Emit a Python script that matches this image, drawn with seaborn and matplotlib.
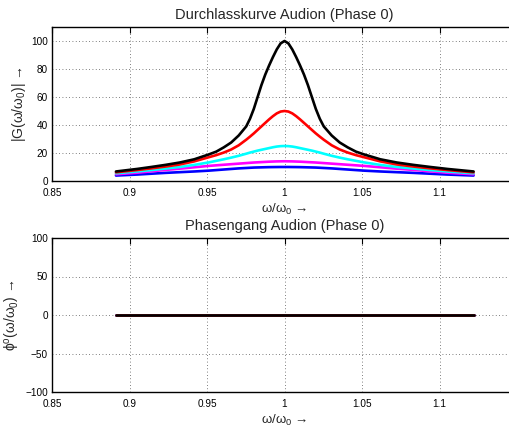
import numpy as np
import pandas as pd
import matplotlib
matplotlib.use("Agg")
import matplotlib.pyplot as plt
import seaborn as sns

# frequency ratio omega/omega0
x_vals = [0.89127, 0.90484, 0.91393, 0.92312, 0.93239, 0.94176, 0.95123, 0.95600,
          0.96079, 0.96561, 0.97045, 0.97531, 0.97775, 0.98020, 0.98265, 0.98511,
          0.98758, 0.99005, 0.99253, 0.99501, 0.99750, 1.00000, 1.00250, 1.00501,
          1.00753, 1.01005, 1.01258, 1.01511, 1.01765, 1.02020, 1.02276, 1.02532,
          1.03045, 1.03562, 1.04081, 1.04603, 1.05127, 1.06184, 1.07251, 1.08329,
          1.09417, 1.10517, 1.12198]

# |G| values per curve
g_blue = [3.9, 4.6, 5.2, 5.8, 6.3, 6.8, 7.4, 7.8, 8.2, 8.6, 9.0, 9.3, 9.45, 9.6, 9.68, 9.75,
          9.83, 9.9, 9.94, 9.97, 10.0, 10.0, 10.0, 9.97, 9.94, 9.9, 9.83, 9.75, 9.68, 9.6,
          9.45, 9.3, 9.0, 8.6, 8.2, 7.8, 7.4, 6.8, 6.3, 5.8, 5.2, 4.6, 3.9]
g_magenta = [4.8, 5.9, 6.9, 7.9, 8.8, 9.8, 10.8, 11.2, 11.6, 12.0, 12.4, 12.8, 13.0, 13.2,
             13.35, 13.5, 13.65, 13.8, 13.9, 14.0, 14.05, 14.1, 14.05, 14.0, 13.9, 13.8,
             13.65, 13.5, 13.35, 13.2, 13.0, 12.8, 12.4, 12.0, 11.6, 11.2, 10.8, 9.8, 8.8,
             7.9, 6.9, 5.9, 4.8]
g_cyan = [5.5, 6.8, 7.8, 8.9, 10.0, 11.5, 13.3, 14.4, 15.5, 16.7, 18.0, 19.5, 20.3, 21.0,
          21.7, 22.3, 22.9, 23.5, 24.1, 24.6, 24.9, 25.0, 24.9, 24.6, 24.1, 23.5, 22.9, 22.3,
          21.7, 21.0, 20.3, 19.5, 18.0, 16.7, 15.5, 14.4, 13.3, 11.5, 10.0, 8.9, 7.8, 6.8, 5.5]
g_red = [6.2, 7.8, 9.0, 10.3, 11.8, 14.0, 17.0, 18.5, 20.3, 22.5, 25.5, 29.5, 31.7, 34.0,
         36.5, 39.0, 41.5, 44.0, 46.3, 48.3, 49.6, 50.0, 49.6, 48.3, 46.3, 44.0, 41.5, 39.0,
         36.5, 34.0, 31.7, 29.5, 25.5, 22.5, 20.3, 18.5, 17.0, 14.0, 11.8, 10.3, 9.0, 7.8, 6.2]
g_black = [6.8, 8.6, 10.0, 11.5, 13.2, 15.5, 19.0, 21.0, 24.0, 27.5, 32.5, 39.0, 44.5, 51.5,
           60.0, 68.5, 76.0, 82.5, 88.5, 94.0, 98.3, 100.0, 98.3, 94.0, 88.5, 82.5, 76.0,
           68.5, 60.0, 51.5, 44.5, 39.0, 32.5, 27.5, 24.0, 21.0, 19.0, 15.5, 13.2, 11.5, 10.0,
           8.6, 6.8]

# phase (degrees) is zero for all curves
phase_vals = [0.0] * len(x_vals)

series_names = ["blue", "magenta", "cyan", "red", "black"]
series_gain = [g_blue, g_magenta, g_cyan, g_red, g_black]
series_colors = ["#0000ff", "#ff00ff", "#00ffff", "#ff0000", "#000000"]

x_ticks = [0.85, 0.9, 0.95, 1.0, 1.05, 1.1]
x_ticklabels = ["0.85", "0.9", "0.95", "1", "1.05", "1.1"]
y1_ticks = [0, 20, 40, 60, 80, 100]
y2_ticks = [-100, -50, 0, 50, 100]

rows = []
for name, g in zip(series_names, series_gain):
    for xv, gv, pv in zip(x_vals, g, phase_vals):
        rows.append({"x": xv, "gain": gv, "phase": pv, "series": name})
df = pd.DataFrame(rows)

sns.set_style("white")
plt.rcParams["font.family"] = ["Liberation Sans", "DejaVu Sans"]
plt.rcParams["mathtext.default"] = "regular"

fig = plt.figure(figsize=(5.10, 4.29), dpi=100)
ax1 = fig.add_axes([52 / 510, 1 - 181 / 429, 465 / 510, 154 / 429])
ax2 = fig.add_axes([52 / 510, 1 - 392 / 429, 465 / 510, 154 / 429])

palette = dict(zip(series_names, series_colors))
sns.lineplot(data=df, x="x", y="gain", hue="series", palette=palette,
             hue_order=series_names, estimator=None, sort=False,
             linewidth=1.9, legend=False, ax=ax1)
sns.lineplot(data=df, x="x", y="phase", hue="series", palette=palette,
             hue_order=series_names, estimator=None, sort=False,
             linewidth=1.9, legend=False, ax=ax2)

for ax, yt, ylim in [(ax1, y1_ticks, (0, 110)), (ax2, y2_ticks, (-100, 100))]:
    ax.set_xlim(0.85, 1.15)
    ax.set_ylim(*ylim)
    ax.set_xticks(x_ticks)
    ax.set_xticklabels(x_ticklabels)
    ax.set_yticks(yt)
    ax.tick_params(direction="in", length=4, width=0.8, labelsize=7.2,
                   top=True, right=False, colors="black")
    ax.tick_params(axis="x", pad=5)
    ax.tick_params(axis="y", pad=3)
    ax.grid(True, linestyle=(0, (1, 3)), color="#555555", linewidth=0.6)
    for s in ax.spines.values():
        s.set_linewidth(1.0)
        s.set_color("black")
    ax.spines["right"].set_visible(False)
    ax.set_xlabel("ω/ω$_0$ →", fontsize=9.5, labelpad=3)

ax1.set_title("Durchlasskurve Audion (Phase 0)", fontsize=10.5, pad=6)
ax2.set_title("Phasengang Audion (Phase 0)", fontsize=10.5, pad=6)
ax1.set_ylabel("|G(ω/ω$_0$)| →", fontsize=10, labelpad=2)
ax2.set_ylabel("ϕ$^o$(ω/ω$_0$) →", fontsize=10, labelpad=2)

fig.savefig("out.png", dpi=100)
